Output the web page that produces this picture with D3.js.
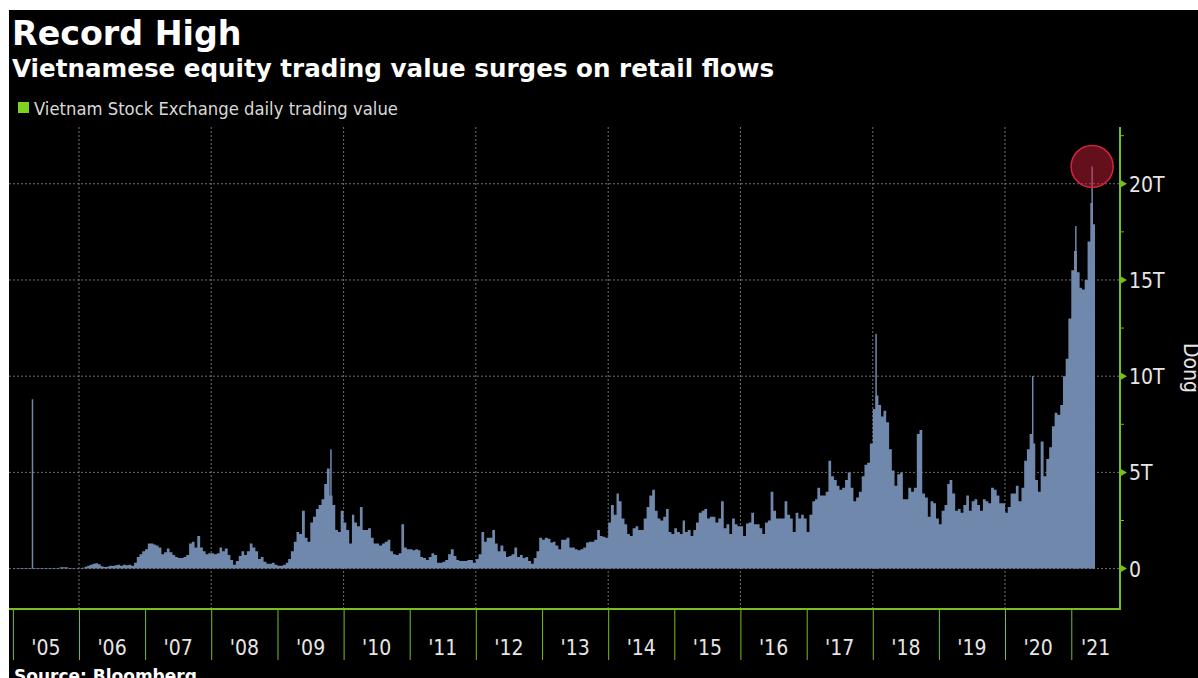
<!DOCTYPE html>
<html>
<head>
<meta charset="utf-8">
<script src="https://d3js.org/d3.v7.min.js"></script>
<style>
    body { margin: 0; background: #fff; }
    text { font-family: "DejaVu Sans Condensed", "DejaVu Sans", sans-serif; }
    .grid line { stroke: #707070; stroke-width: 1; stroke-dasharray: 2,2; }
    .yaxis text, .xlabel { fill: #e6e6e6; font-size: 21px; }
</style>
</head>
<body>
<div id="chart"></div>
<script>
    // daily trading value, read as half-month levels (trillion dong)
    // each year: Jan 1st half, Jan 2nd half, ... Dec 2nd half
    var v2005 = [0.02, 0.02, 0.03, 0.03, 0.03, 0.03, 0.03, 0.03, 0.03, 0.03, 0.03, 0.03, 0.03, 0.03, 0.03, 0.03, 0.03, 0.07, 0.07, 0.07, 0.03, 0.03, 0.02, 0.02];
    var v2006 = [0.02, 0.05, 0.1, 0.15, 0.2, 0.25, 0.28, 0.22, 0.12, 0.08, 0.1, 0.15, 0.13, 0.18, 0.2, 0.15, 0.2, 0.18, 0.2, 0.15, 0.3, 0.6, 0.75, 0.9];
    var v2007 = [1.0, 1.3, 1.3, 1.25, 1.2, 1.1, 0.75, 0.85, 1.05, 0.85, 0.7, 0.6, 0.55, 0.55, 0.6, 0.7, 1.3, 1.4, 1.1, 1.7, 1.1, 0.9, 0.75, 0.8];
    var v2008 = [0.8, 0.75, 0.8, 1.1, 0.9, 1.05, 0.7, 0.45, 0.2, 0.4, 0.65, 0.9, 0.7, 0.9, 1.3, 1.1, 0.9, 0.5, 0.6, 0.35, 0.25, 0.25, 0.3, 0.2];
    var v2009 = [0.15, 0.15, 0.2, 0.3, 0.5, 0.9, 1.4, 1.9, 1.8, 3.0, 1.6, 1.4, 2.4, 2.7, 3.1, 3.3, 3.6, 4.4, 5.2, 3.8, 3.3, 2.0, 1.9, 3.0];
    var v2010 = [2.4, 2.0, 1.3, 2.8, 2.4, 2.2, 3.2, 2.0, 2.0, 2.1, 1.6, 1.3, 1.3, 1.2, 1.3, 1.4, 1.5, 0.9, 0.75, 0.7, 0.8, 2.3, 1.1, 1.0];
    var v2011 = [1.0, 0.95, 1.0, 0.95, 0.6, 0.55, 0.45, 0.6, 0.8, 0.7, 0.3, 0.3, 0.35, 0.45, 0.75, 1.0, 0.65, 0.45, 0.4, 0.4, 0.4, 0.45, 0.45, 0.3];
    var v2012 = [0.5, 0.75, 1.9, 1.4, 1.6, 1.6, 2.0, 1.3, 0.9, 1.2, 0.9, 0.6, 0.65, 0.75, 1.1, 0.6, 0.7, 0.55, 0.6, 0.4, 0.25, 0.55, 0.9, 1.6];
    var v2013 = [1.5, 1.6, 1.55, 1.35, 1.4, 1.2, 1.0, 1.5, 1.5, 1.6, 1.1, 1.1, 1.0, 0.95, 1.0, 1.1, 1.35, 1.4, 1.4, 1.5, 2.0, 1.7, 1.65, 1.6];
    var v2014 = [2.4, 3.3, 2.8, 3.9, 3.5, 2.6, 2.3, 1.8, 1.7, 2.1, 2.2, 2.0, 2.0, 2.6, 3.2, 3.8, 4.1, 3.0, 2.6, 2.5, 2.7, 3.1, 1.9, 1.8];
    var v2015 = [2.1, 1.9, 1.8, 2.5, 1.9, 2.0, 1.7, 2.0, 2.4, 2.9, 3.0, 3.1, 2.6, 2.7, 2.7, 2.4, 2.6, 3.5, 2.1, 2.3, 1.8, 2.6, 2.3, 2.2];
    var v2016 = [2.2, 1.7, 2.35, 2.4, 2.9, 2.3, 2.3, 2.1, 1.8, 2.4, 2.5, 4.0, 3.0, 2.6, 2.6, 2.6, 3.5, 2.8, 2.6, 1.9, 2.9, 2.6, 2.8, 2.6];
    var v2017 = [1.9, 2.8, 3.5, 3.6, 4.2, 3.8, 3.8, 4.0, 5.6, 4.8, 4.6, 4.3, 4.1, 4.2, 4.6, 5.0, 4.2, 3.5, 3.7, 4.0, 4.8, 5.4, 5.5, 6.5];
    var v2018 = [8.3, 9.0, 8.5, 7.9, 8.2, 7.6, 6.2, 5.1, 4.3, 4.9, 5.0, 3.6, 3.6, 4.2, 4.0, 4.2, 7.0, 7.2, 3.9, 3.7, 2.7, 3.5, 3.4, 2.6];
    var v2019 = [2.3, 3.0, 3.3, 4.4, 4.6, 3.9, 3.0, 3.1, 2.9, 3.3, 3.8, 3.0, 3.5, 3.6, 3.3, 3.0, 3.6, 3.5, 3.4, 4.2, 4.1, 3.8, 3.4, 3.4];
    var v2020 = [2.9, 3.2, 3.9, 3.9, 4.3, 3.5, 4.2, 5.6, 6.2, 7.0, 6.5, 4.6, 4.0, 6.6, 4.8, 5.7, 6.3, 7.4, 8.1, 8.0, 8.5, 10.0, 10.9, 13.0];
    var v2021 = [15.5, 16.5, 15.4, 14.6, 14.5, 15.0, 17.0, 19.0, 17.9];

    var years = d3.range(2005, 2022);
    var yearValues = [v2005, v2006, v2007, v2008, v2009, v2010, v2011, v2012, v2013,
        v2014, v2015, v2016, v2017, v2018, v2019, v2020, v2021];
    var seriesEnd = "2021-05-12";

    // single-day spikes
    var spikeDates = ["2005-04-15", "2009-10-19", "2018-01-15", "2020-05-29", "2021-01-22", "2021-04-22"];
    var spikeValues = [8.8, 6.2, 12.2, 10.0, 17.8, 20.9];

    var peakDate = "2021-04-22";
    var peakValue = 20.9;

    var yTicks = [0, 5, 10, 15, 20];
    var yMinor = [2.5, 7.5, 12.5, 17.5, 22.5];
    var gridYears = [2006, 2008, 2010, 2012, 2014, 2016, 2018, 2020];

    var parse = d3.timeParse("%Y-%m-%d");
    var green = "#77bf1f";
    var barColor = "#7088ab";

    var width = 1198, height = 678;
    var plot = { left: 9, right: 1120, top: 127, bottom: 609 };

    var series = [];
    years.forEach(function (yr, k) {
        yearValues[k].forEach(function (v, i) {
            series.push({ date: new Date(yr, Math.floor(i / 2), i % 2 ? 16 : 1), value: v });
        });
    });
    series.push({ date: parse(seriesEnd), value: series[series.length - 1].value });

    var svg = d3.select("#chart").append("svg")
        .attr("width", width)
        .attr("height", height);

    svg.append("rect")
        .attr("x", 9).attr("y", 10)
        .attr("width", width - 9).attr("height", height - 10)
        .attr("fill", "#000");

    var x = d3.scaleTime()
        .domain([new Date(2006, 0, 1), new Date(2020, 0, 1)])
        .range([79, 1005]);

    var y = d3.scaleLinear()
        .domain([-2.1, 22.95])
        .range([plot.bottom, plot.top]);

    // titles
    svg.append("text")
        .attr("x", 12).attr("y", 45)
        .attr("fill", "#fff")
        .style("font-family", "'DejaVu Sans'")
        .style("font-weight", "bold")
        .style("font-size", "33.3px")
        .text("Record High");

    svg.append("text")
        .attr("x", 12).attr("y", 77)
        .attr("fill", "#fff")
        .style("font-family", "'DejaVu Sans'")
        .style("font-weight", "bold")
        .style("font-size", "24.6px")
        .text("Vietnamese equity trading value surges on retail flows");

    // legend
    svg.append("rect")
        .attr("x", 18).attr("y", 102)
        .attr("width", 11).attr("height", 11)
        .attr("fill", "#7ed321");

    svg.append("text")
        .attr("x", 34).attr("y", 115)
        .attr("fill", "#d9d9d9")
        .style("font-size", "18.3px")
        .text("Vietnam Stock Exchange daily trading value");

    // grid
    var grid = svg.append("g").attr("class", "grid");
    grid.selectAll(".gx")
        .data(gridYears)
        .enter().append("line")
        .attr("x1", function (d) { return x(new Date(d, 0, 1)); })
        .attr("x2", function (d) { return x(new Date(d, 0, 1)); })
        .attr("y1", plot.top)
        .attr("y2", plot.bottom);
    grid.selectAll(".gy")
        .data(yTicks)
        .enter().append("line")
        .attr("x1", plot.left)
        .attr("x2", plot.right)
        .attr("y1", function (d) { return y(d); })
        .attr("y2", function (d) { return y(d); });

    // bars
    var area = d3.area()
        .x(function (d) { return x(d.date); })
        .y0(y(0))
        .y1(function (d) { return y(d.value); })
        .curve(d3.curveStepAfter);

    svg.append("path")
        .datum(series)
        .attr("d", area)
        .attr("fill", barColor);

    svg.selectAll(".spike")
        .data(spikeDates.map(function (d, i) { return { date: parse(d), value: spikeValues[i] }; }))
        .enter().append("rect")
        .attr("class", "spike")
        .attr("x", function (d) { return x(d.date); })
        .attr("width", 1.5)
        .attr("y", function (d) { return y(d.value); })
        .attr("height", function (d) { return y(0) - y(d.value); })
        .attr("fill", barColor);

    // record marker
    svg.append("circle")
        .attr("cx", x(parse(peakDate)) + 0.75)
        .attr("cy", y(peakValue))
        .attr("r", 21)
        .attr("fill", "#c81d38")
        .attr("fill-opacity", 0.5)
        .attr("stroke", "#d4243f")
        .attr("stroke-width", 1.5);

    // right axis
    var yAxis = svg.append("g")
        .attr("class", "yaxis")
        .attr("transform", "translate(" + plot.right + ",0)")
        .call(d3.axisRight(y)
            .tickValues(yTicks)
            .tickSize(0)
            .tickPadding(9)
            .tickFormat(function (d) { return d === 0 ? "0" : d + "T"; }));
    yAxis.select(".domain").remove();
    yAxis.selectAll("text").attr("dy", "0.36em");

    yAxis.selectAll(".tri")
        .data(yTicks)
        .enter().append("path")
        .attr("d", "M0,-4L7,0L0,4Z")
        .attr("transform", function (d) { return "translate(0," + y(d) + ")"; })
        .attr("fill", green);

    yAxis.selectAll(".minor")
        .data(yMinor)
        .enter().append("line")
        .attr("x1", 0).attr("x2", 4)
        .attr("y1", function (d) { return y(d); })
        .attr("y2", function (d) { return y(d); })
        .attr("stroke", green);

    svg.append("text")
        .attr("transform", "translate(1184,368) rotate(90)")
        .attr("text-anchor", "middle")
        .attr("fill", "#e6e6e6")
        .style("font-size", "21px")
        .text("Dong");

    // bottom axis
    var yearDates = years.map(function (d) { return new Date(d, 0, 1); });
    var xAxis = svg.append("g")
        .attr("transform", "translate(0," + plot.bottom + ")")
        .call(d3.axisBottom(x)
            .tickValues(yearDates)
            .tickSize(51)
            .tickFormat(""));
    xAxis.select(".domain").remove();
    xAxis.selectAll(".tick line").attr("stroke", green).attr("stroke-width", 1);

    svg.append("g").selectAll("text")
        .data(years)
        .enter().append("text")
        .attr("class", "xlabel")
        .attr("text-anchor", "middle")
        .attr("x", function (d) {
            var a = Math.max(x(new Date(d, 0, 1)), plot.left);
            var b = Math.min(x(new Date(d + 1, 0, 1)), plot.right);
            return (a + b) / 2;
        })
        .attr("y", 655)
        .text(function (d) { return d3.timeFormat("'%y")(new Date(d, 0, 1)); });

    // plot frame (bottom and right)
    svg.append("path")
        .attr("d", "M" + plot.left + "," + plot.bottom + "H" + plot.right + "V" + plot.top)
        .attr("fill", "none")
        .attr("stroke", green)
        .attr("stroke-width", 2);

    svg.append("text")
        .attr("x", 14).attr("y", 682)
        .attr("fill", "#fff")
        .style("font-family", "'DejaVu Sans'")
        .style("font-weight", "bold")
        .style("font-size", "17px")
        .text("Source: Bloomberg");
</script>
</body>
</html>
